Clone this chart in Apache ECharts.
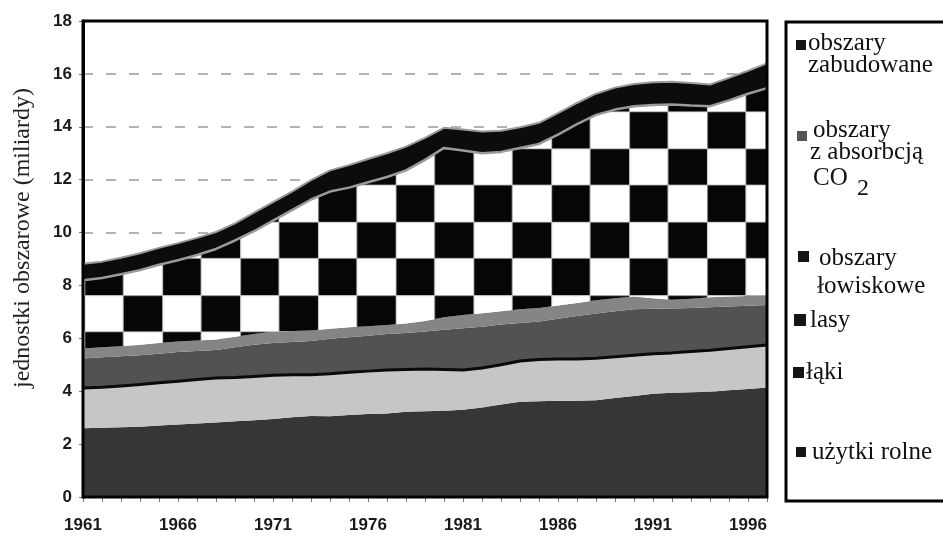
<!DOCTYPE html>
<html><head><meta charset="utf-8">
<script src="https://cdn.jsdelivr.net/npm/echarts@6/dist/echarts.min.js"></script>
<style>html,body{margin:0;padding:0;background:#fff;overflow:hidden}#c{width:943px;height:536px}</style>
</head><body><div id="c"></div>
<script>
// ---- data (miliardy jednostek obszarowych, warstwy skumulowane) ----
const years = ['1961','1962','1963','1964','1965','1966','1967','1968','1969','1970',
  '1971','1972','1973','1974','1975','1976','1977','1978','1979','1980',
  '1981','1982','1983','1984','1985','1986','1987','1988','1989','1990',
  '1991','1992','1993','1994','1995','1996','1997'];
const uzytkiRolne = [2.60,2.62,2.64,2.66,2.70,2.74,2.78,2.82,2.86,2.90,
  2.95,3.02,3.06,3.05,3.10,3.14,3.16,3.22,3.24,3.26,
  3.30,3.38,3.50,3.60,3.62,3.64,3.64,3.66,3.74,3.82,
  3.90,3.94,3.96,3.98,4.04,4.08,4.14];
const laki = [1.52,1.53,1.56,1.59,1.62,1.64,1.66,1.68,1.66,1.66,
  1.65,1.60,1.56,1.61,1.62,1.62,1.64,1.60,1.60,1.56,
  1.50,1.50,1.50,1.54,1.58,1.58,1.58,1.59,1.56,1.54,
  1.52,1.51,1.54,1.57,1.58,1.60,1.61];
const lasy = [1.12,1.13,1.12,1.11,1.10,1.10,1.08,1.06,1.14,1.20,
  1.22,1.24,1.28,1.32,1.32,1.34,1.36,1.38,1.42,1.50,
  1.58,1.56,1.52,1.44,1.44,1.52,1.62,1.69,1.72,1.74,
  1.70,1.68,1.65,1.63,1.58,1.55,1.51];
const lowiskowe = [0.38,0.38,0.38,0.40,0.40,0.40,0.40,0.40,0.40,0.40,
  0.43,0.42,0.40,0.38,0.38,0.36,0.34,0.36,0.40,0.48,
  0.50,0.51,0.50,0.52,0.51,0.50,0.50,0.50,0.50,0.48,
  0.40,0.33,0.35,0.37,0.38,0.37,0.37];
const absorbcjaCO2 = [2.58,2.62,2.72,2.82,2.96,3.07,3.23,3.42,3.64,3.89,
  4.20,4.57,4.95,5.19,5.28,5.44,5.60,5.79,6.09,6.40,
  6.22,6.05,6.03,6.10,6.20,6.46,6.76,7.01,7.13,7.20,
  7.30,7.38,7.30,7.23,7.42,7.65,7.83];
const zabudowane = [0.62,0.62,0.63,0.64,0.64,0.65,0.65,0.64,0.65,0.70,
  0.70,0.70,0.73,0.80,0.85,0.88,0.90,0.90,0.83,0.76,
  0.80,0.82,0.80,0.78,0.80,0.82,0.80,0.80,0.83,0.84,
  0.86,0.86,0.86,0.82,0.85,0.87,0.94];
const yTicks = {min: 0, max: 18, step: 2};

// ---- checkerboard pattern ----
function makeChecker() {
  const c = document.createElement('canvas');
  c.width = 100; c.height = 100;
  const g = c.getContext('2d');
  g.fillStyle = '#ffffff'; g.fillRect(0, 0, 100, 100);
  g.fillStyle = '#060606';
  g.fillRect(50, 0, 50, 50); g.fillRect(0, 50, 50, 50);
  g.strokeStyle = '#b5b5b5'; g.lineWidth = 1.2;
  g.beginPath();
  g.moveTo(0, 0.6); g.lineTo(100, 0.6); g.moveTo(0, 50); g.lineTo(100, 50);
  g.moveTo(0.6, 0); g.lineTo(0.6, 100); g.moveTo(50, 0); g.lineTo(50, 100);
  g.stroke();
  return c;
}
const checker = {image: makeChecker(), repeat: 'repeat', x: 6.6, y: 1.7, scaleX: 0.778, scaleY: 0.7333};

const G = {left: 83, right: 176, top: 21, bottom: 39};
const chart = echarts.init(document.getElementById('c'), null, {renderer: 'canvas'});

function layer(name, data, fill, line) {
  return {
    name: name, type: 'line', stack: 'total', data: data,
    symbol: 'none', smooth: false, silent: true,
    itemStyle: {color: typeof fill === 'string' ? fill : '#000'},
    lineStyle: line || {width: 0, opacity: 0},
    areaStyle: {color: fill, opacity: 1},
    emphasis: {disabled: true}
  };
}

const serif = "'Liberation Serif', 'DejaVu Serif', serif";
const lf = {fontFamily: serif, fontSize: 25, fill: '#111'};
function t(x, y, s, extra) {
  return {type: 'text', z: 100, style: Object.assign({x: x, y: y, text: s, verticalAlign: 'middle', align: 'left'}, lf, extra || {})};
}
function sq(x, y, w, c) {
  return {type: 'rect', z: 100, shape: {x: x, y: y, width: w, height: w}, style: {fill: c}};
}

chart.setOption({
  animation: false,
  backgroundColor: '#fff',
  grid: Object.assign({}, G, {containLabel: false}),
  xAxis: {
    type: 'category', data: years, boundaryGap: false,
    axisLine: {lineStyle: {color: '#333', width: 1}},
    axisTick: {show: true, interval: 0, length: 5, lineStyle: {color: '#777'}},
    axisLabel: {interval: 4, margin: 20, color: '#1a1a1a', fontSize: 17, fontWeight: 'bold', fontFamily: "'Liberation Sans', Arial, sans-serif"},
    splitLine: {show: false}
  },
  yAxis: {
    type: 'value', min: yTicks.min, max: yTicks.max, interval: yTicks.step,
    axisLine: {show: true, lineStyle: {color: '#000', width: 3}},
    axisTick: {show: true, length: 4, lineStyle: {color: '#777'}},
    axisLabel: {margin: 11, color: '#1a1a1a', fontSize: 17, fontWeight: 'bold', fontFamily: "'Liberation Sans', Arial, sans-serif"},
    splitLine: {show: true, lineStyle: {color: '#9a9a9a', width: 1.5, type: [10, 13]}}
  },
  series: [
    layer('użytki rolne', uzytkiRolne, '#363636'),
    layer('łąki', laki, '#c6c6c6', {color: '#0a0a0a', width: 3}),
    layer('lasy', lasy, '#525252'),
    layer('obszary łowiskowe', lowiskowe, '#858585'),
    layer('obszary z absorbcją CO2', absorbcjaCO2, checker, {color: '#9a9a9a', width: 2.5}),
    layer('obszary zabudowane', zabudowane, '#0c0c0c', {color: '#9a9a9a', width: 2})
  ],
  graphic: [
    // plot frame
    {type: 'rect', z: 90, shape: {x: G.left, y: G.top, width: 943 - G.left - G.right, height: 536 - G.top - G.bottom},
      style: {fill: 'none', stroke: '#000', lineWidth: 3}},
    // y axis title
    {type: 'text', z: 100, x: 23, y: 238, rotation: Math.PI / 2,
      style: {text: 'jednostki obszarowe (miliardy)', fontFamily: serif, fontSize: 24, fill: '#222', align: 'center', verticalAlign: 'middle'}},
    // legend box: open on the right, it runs past the picture edge as in the scan
    {type: 'polyline', z: 95, shape: {points: [[990, 22], [786, 22], [786, 501], [990, 501]]},
      style: {fill: null, stroke: '#000', lineWidth: 3}},
    sq(796, 40, 10, '#151515'),
    t(808, 43, 'obszary'), t(808, 65, 'zabudowane'),
    sq(797, 131, 10, '#555555'),
    t(813, 130, 'obszary'), t(810, 152, 'z absorbcją'), t(813, 178, 'CO'), t(857, 189, '2', {fontSize: 24}),
    sq(798, 251, 11, '#151515'),
    t(819, 258, 'obszary'), t(817, 286, 'łowiskowe'),
    sq(794, 314, 12, '#151515'),
    t(810, 320, 'lasy'),
    sq(793, 367, 11, '#151515'),
    t(806, 372, 'łąki'),
    sq(796, 447, 10, '#151515'),
    t(812, 452, 'użytki rolne')
  ]
});
</script>
</body></html>
